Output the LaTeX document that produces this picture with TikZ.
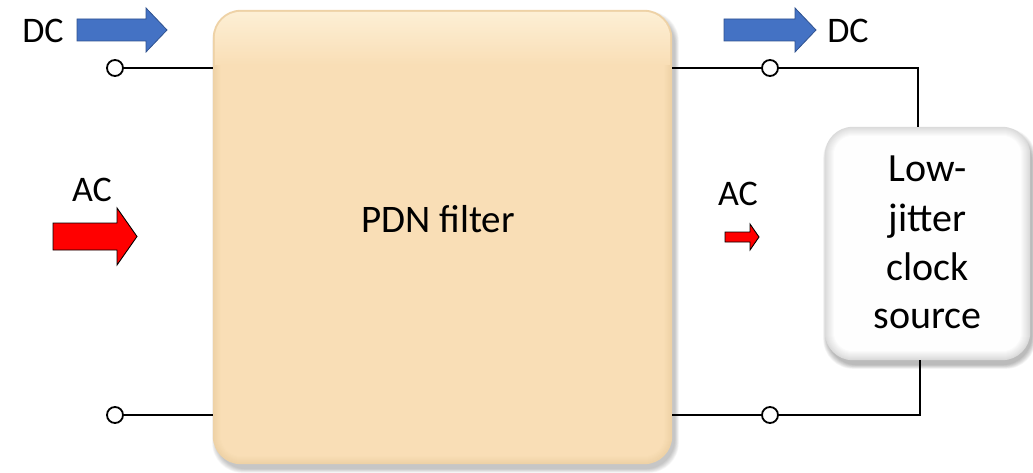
\documentclass[tikz,border=0pt]{standalone}
\usepackage{fontspec}
\setmainfont{Carlito}
\usetikzlibrary{calc}
\definecolor{peach}{RGB}{249,222,182}
\definecolor{peachedge}{RGB}{238,210,166}
\definecolor{peachhi}{RGB}{253,240,214}
\definecolor{dcblue}{RGB}{68,114,196}
\definecolor{dcblueedge}{RGB}{47,82,143}
\definecolor{acred}{RGB}{255,0,0}
\pgfdeclarelayer{back}
\pgfdeclarelayer{wires}
\pgfsetlayers{back,wires,main}

% block arrow: tail x, head base x, tip x, centre y, shaft half width, head half width, style
\newcommand{\blockarrow}[7]{%
  \draw[#7] (#1,#4-#5) -- (#2,#4-#5) -- (#2,#4-#6) -- (#3,#4)
    -- (#2,#4+#6) -- (#2,#4+#5) -- (#1,#4+#5) -- cycle;}

\begin{document}
\begin{tikzpicture}[x=1pt,y=-1pt,
  wire/.style={line width=2pt,black},
  terminal/.style={circle,draw=black,fill=white,line width=1.8pt,
    minimum size=16pt,inner sep=0pt},
  label/.style={font=\fontsize{36}{42}\selectfont,anchor=base,inner sep=0pt},
  pdntext/.style={font=\fontsize{39}{46}\selectfont,anchor=base,inner sep=0pt},
  clocktext/.style={font=\fontsize{40}{48}\selectfont,anchor=base,inner sep=0pt},
  blockbox/.style={rectangle,minimum width=#1,inner sep=0pt},
  dcarrow/.style={fill=dcblue,draw=dcblueedge,line width=0.8pt,line join=miter},
  acarrow/.style={fill=acred,draw=black,line width=0.9pt,line join=miter}]
\useasboundingbox (0,0) rectangle (1033,473);

% main blocks (outlines only, fills go on the back layer)
\node[blockbox=459pt,minimum height=454pt] (pdn) at (442.5,237) {};
\node[blockbox=205pt,minimum height=233pt] (clock) at (927.5,243.5) {};

% PDN filter block: soft shadow and graded peach fill
\begin{pgfonlayer}{back}
  \foreach \k in {0,...,6}
    \fill[black,opacity=0.035,rounded corners=30pt]
      ($(pdn.north west)+(3-\k*0.6,5-\k*0.6)$) rectangle
      ($(pdn.south east)+(3+\k*0.6,5+\k*0.6)$);
  \foreach \k in {0,...,8}{
    \pgfmathsetmacro{\mix}{100-\k*12.5}
    \fill[peachedge!\mix!peach,rounded corners=28pt-\k pt]
      ($(pdn.north west)+(\k,\k)$) rectangle ($(pdn.south east)-(\k,\k)$);
  }
  \begin{scope}
    \clip[rounded corners=26pt]
      ($(pdn.north west)+(2,2)$) rectangle ($(pdn.south east)-(2,2)$);
    \shade[top color=peachhi,bottom color=peach]
      ($(pdn.north west)+(0,0)$) rectangle ($(pdn.north east)+(0,55)$);
  \end{scope}

  % clock source block: shadow and grey rim
  \foreach \k in {0,...,6}
    \fill[black,opacity=0.045,rounded corners=30pt]
      ($(clock.north west)+(2-\k*0.6,5-\k*0.6)$) rectangle
      ($(clock.south east)+(2+\k*0.6,5+\k*0.6)$);
  \foreach \k in {0,...,9}{
    \pgfmathsetmacro{\mix}{14-\k*1.5}
    \fill[black!\mix!white,rounded corners=28pt-\k pt]
      ($(clock.north west)+(\k,\k)$) rectangle ($(clock.south east)-(\k,\k)$);
  }
\end{pgfonlayer}

% text of the blocks
\node[pdntext] (pdnlabel) at (438,233) {PDN filter};
\node[clocktext] (clk1) at (927.5,182) {Low-};
\node[clocktext] (clk2) at (927.5,231) {jitter};
\node[clocktext] (clk3) at (927.5,280) {clock};
\node[clocktext] (clk4) at (927.5,328) {source};

% terminals
\node[terminal] (tl) at (115,68) {};
\node[terminal] (bl) at (115,415) {};
\node[terminal] (tr) at (770,68) {};
\node[terminal] (br) at (770,415) {};

% wiring
\begin{pgfonlayer}{wires}
  \draw[wire] (tl) -- (tl -| pdn.west);
  \draw[wire] (bl) -- (bl -| pdn.west);
  \draw[wire] (pdn.east |- tr) -- (tr);
  \draw[wire] (pdn.east |- br) -- (br);
  \draw[wire] (tr) -| ([xshift=-9.5pt]clock.north);
  \draw[wire] (br) -| ([xshift=-7.5pt]clock.south);
\end{pgfonlayer}

% DC and AC labels
\node[label] (dcin) at (43,43) {DC};
\node[label] (dcout) at (848,43) {DC};
\node[label] (acin) at (92,202) {AC};
\node[label] (acout) at (738,206) {AC};

% flow arrows
\blockarrow{77}{146}{167}{30}{11}{22}{dcarrow}
\blockarrow{724}{795}{816}{30}{11}{22}{dcarrow}
\blockarrow{53}{117}{137}{236.5}{13.5}{28.5}{acarrow}
\blockarrow{725}{750}{759}{237}{5}{13}{acarrow}
\end{tikzpicture}
\end{document}
